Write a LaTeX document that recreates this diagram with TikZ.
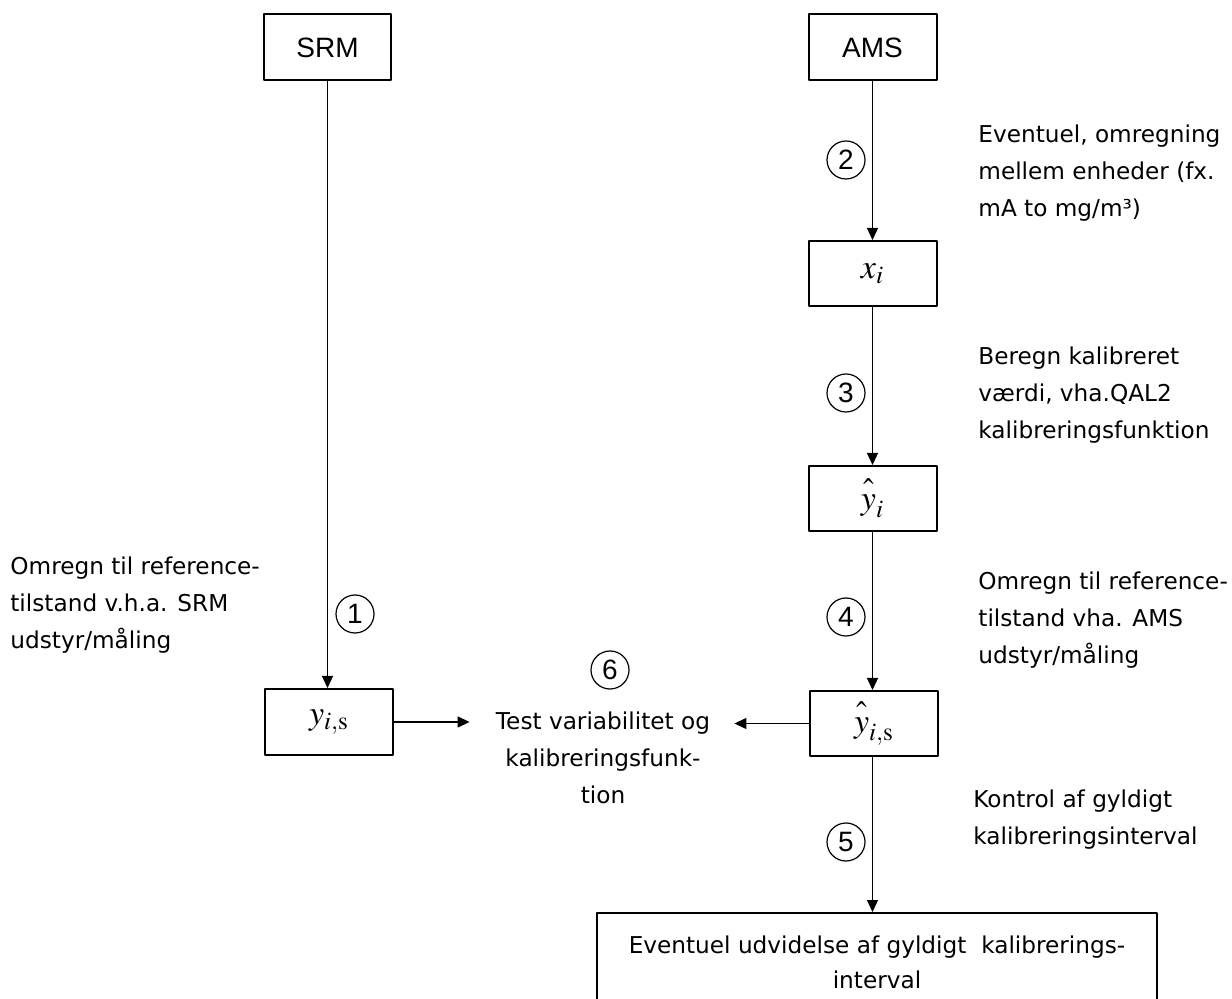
\documentclass[tikz,border=0pt]{standalone}
\usepackage{amsmath}
\usepackage{mathptmx}
\usepackage{fontspec}
\setmainfont{DejaVu Sans}
\newfontfamily\arial{Liberation Sans}
\usetikzlibrary{arrows.meta,calc,positioning}

\begin{document}
\begin{tikzpicture}[x=0.5pt, y=-0.5pt, line join=round, >={Triangle[length=6pt,width=5.5pt]},
	box/.style={draw, line width=1pt, inner sep=0pt, minimum width=64pt, minimum height=33pt},
	num/.style={draw, circle, line width=0.6pt, inner sep=0pt, minimum size=19pt, font=\arial\fontsize{14}{14}\selectfont},
	txt/.style={align=left, anchor=west, inner sep=0pt, font=\fontsize{11.6}{18.5}\selectfont},
	pil/.style={->, line width=0.65pt}]
	\clip (0,0) rectangle (1232,999);
	\node[box, minimum width=63.5pt, font=\arial\fontsize{14}{14}\selectfont] (srm) at (327.5,47.5) {SRM};
	\node[box, font=\arial\fontsize{14}{14}\selectfont] (ams) at (872.5,47.5) {AMS};
	\node[box, minimum height=32.5pt, font=\fontsize{17}{17}\selectfont] (xi) at (872.5,273.5) {$x_i$};
	\node[box, minimum height=32.5pt, font=\fontsize{17}{17}\selectfont] (yh) at (872.5,498.5) {$\hat{\vphantom{b}y}_i$};
	\node[box, minimum height=32.5pt, font=\fontsize{17}{17}\selectfont] (yhs) at (874,723.5) {$\hat{\vphantom{b}y}_{i,\mathrm{s}}$};
	\node[box, minimum height=33pt, font=\fontsize{17}{17}\selectfont] (ys) at (329,722) {$y_{i,\mathrm{s}}$};
	\node[box, minimum width=280pt, minimum height=49.5pt, align=center, font=\fontsize{11.6}{17.5}\selectfont] (udv) at (877,962.5)
		{Eventuel udvidelse af gyldigt\ \ kalibrerings-\\interval};
	\node[align=center, inner sep=0pt, font=\fontsize{11.6}{18.5}\selectfont] (test) at (603,758)
		{Test variabilitet og\\kalibreringsfunk-\\tion};
	\node[txt] (t2) at (978,173) {Eventuel, omregning\\mellem enheder (fx.\\mA to mg/m³)};
	\node[txt] (t3) at (978,395) {Beregn kalibreret\\værdi, vha.QAL2\\kalibreringsfunktion};
	\node[txt] (t4) at (978,620) {Omregn til reference-\\tilstand vha. AMS\\udstyr/måling};
	\node[txt] (t5) at (973,820) {Kontrol af gyldigt\\kalibreringsinterval};
	\node[txt] (t1) at (10,605) {Omregn til reference-\\tilstand v.h.a. SRM\\udstyr/måling};
	\foreach \n/\x/\y in {1/355/614, 2/846/160, 3/846/393, 4/846/617, 5/846/842, 6/610/670}
		\node[num] (c\n) at (\x,\y) {\n};
	\draw[pil] (srm) -- (srm |- ys.north);
	\draw[pil] (ams) -- (xi);
	\draw[pil] (xi) -- (yh);
	\draw[pil] (yh) -- (yh |- yhs.north);
	\draw[pil] (yh |- yhs.south) -- (yh |- udv.north);
	\draw[pil] (ys.east) -- ($(test.west |- ys.east)+(-26,0)$);
	\draw[pil] (yhs.west) -- ($(test.east |- yhs.west)+(24,0)$);
\end{tikzpicture}
\end{document}
